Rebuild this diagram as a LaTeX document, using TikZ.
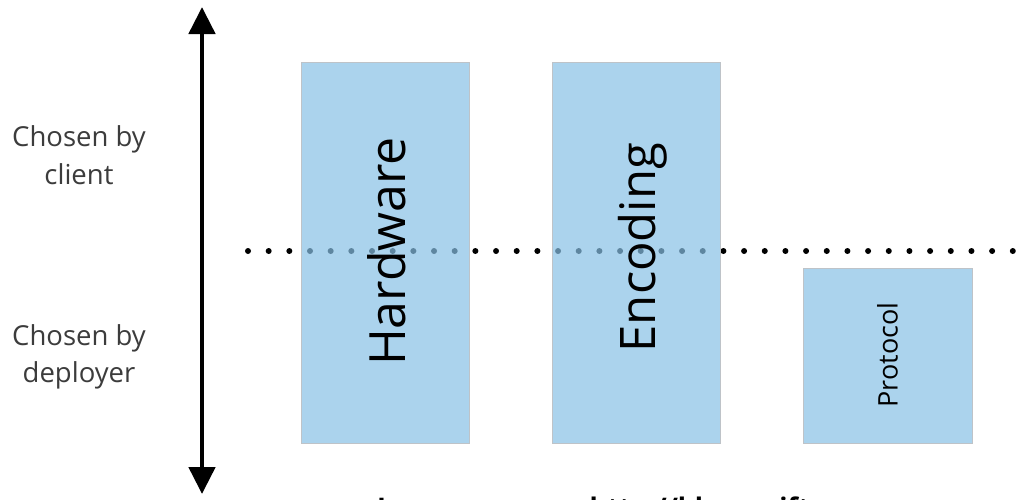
\documentclass[tikz,border=0pt]{standalone}
\usepackage{fontspec}
\setmainfont{Open Sans}
\usetikzlibrary{arrows.meta}
\definecolor{boxfill}{RGB}{135,192,229}
\definecolor{boxline}{RGB}{190,195,200}
\definecolor{labelgray}{RGB}{60,60,60}
\tikzset{
  layerbox/.style={draw=boxline, line width=1pt, fill=boxfill, fill opacity=0.7, draw opacity=1, inner sep=0pt, anchor=north west},
  layertext/.style={rotate=90, anchor=base, text=black, inner sep=0pt},
  sidelabel/.style={align=center, text=labelgray, inner sep=0pt, font=\fontsize{27.5}{37.5}\selectfont},
  dotrow/.style={line width=6pt, line cap=round, dash pattern=on 0pt off 20.67pt},
  bigarrow/.style={line width=4.8pt, {Triangle[width=26pt,length=27pt]}-{Triangle[width=26pt,length=27pt]}}
}
\begin{document}
\begin{tikzpicture}[x=1pt,y=-1pt]
\useasboundingbox (0,0) rectangle (1028,499);
% vertical arrow
\coordinate (atop) at (202,7);
\coordinate (abot) at (202,494);
\draw[bigarrow] (atop) -- (abot);
% side labels
\node[sidelabel] (client) at (79,155) {Chosen by\\client};
\node[sidelabel] (deployer) at (79,357) {Chosen by\\deployer};
% dotted divider
\coordinate (dl) at (248,251);
\coordinate (dr) at (1019,251);
\draw[dotrow] (dl) -- (dr);
% boxes
\node[layerbox, minimum width=168pt, minimum height=381pt] (hw) at (301,62) {};
\node[layerbox, minimum width=168pt, minimum height=381pt] (enc) at (552,62) {};
\node[layerbox, minimum width=169pt, minimum height=175pt] (proto) at (803,268) {};
% box texts
\node[layertext, font=\fontsize{50}{60}\selectfont] (hwt) at (405,251.5) {Hardware};
\node[layertext, font=\fontsize{49}{59}\selectfont] (enct) at (655,247.5) {Encoding};
\node[layertext, font=\fontsize{27}{32}\selectfont] (protot) at (897.5,355) {Protocol};
% cut-off source line
\node[anchor=base west, inner sep=0pt, font=\bfseries\fontsize{27}{32}\selectfont] (src) at (377,517.5) {Image source:\hspace{16pt} http://blog.swift};
\end{tikzpicture}
\end{document}
